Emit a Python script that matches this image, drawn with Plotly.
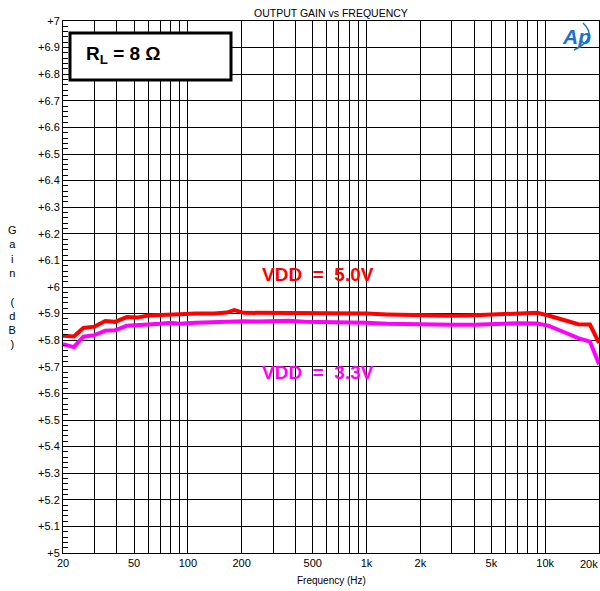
import plotly.graph_objects as go

# Measured gain vs frequency for an 8 ohm load at two supply voltages
freq_hz = [20, 23, 26, 30, 34.5, 39, 45.5, 52, 60, 70, 80, 90, 110, 140, 165, 182,
           205, 250, 300, 366, 450, 600, 800, 1000, 1300, 2000, 3000, 4000, 5500,
           7200, 9000, 10400, 12900, 15300, 17800, 20000]
gain_5v0 = [5.817, 5.814, 5.846, 5.851, 5.872, 5.869, 5.887, 5.885, 5.893, 5.896,
            5.897, 5.898, 5.900, 5.900, 5.904, 5.913, 5.903, 5.903, 5.903, 5.903,
            5.903, 5.903, 5.902, 5.900, 5.897, 5.893, 5.892, 5.894, 5.899, 5.903,
            5.903, 5.893, 5.874, 5.860, 5.859, 5.790]
gain_3v3 = [5.785, 5.774, 5.813, 5.819, 5.836, 5.837, 5.854, 5.856, 5.857, 5.862,
            5.866, 5.862, 5.866, 5.869, 5.871, 5.871, 5.871, 5.870, 5.871, 5.873,
            5.869, 5.869, 5.869, 5.866, 5.862, 5.858, 5.858, 5.858, 5.862, 5.864,
            5.863, 5.855, 5.829, 5.808, 5.795, 5.710]

# Axis ticks (the last label sits at the right edge and is drawn separately)
x_grid = [m * 10 ** e for e in range(1, 5) for m in range(1, 10) if 20 <= m * 10 ** e <= 20000]
x_labels = {20: "20", 50: "50", 100: "100", 200: "200", 500: "500", 1000: "1k",
            2000: "2k", 5000: "5k", 10000: "10k"}
x_edge_label = "20k"
x_text = [x_labels.get(v, "") for v in x_grid]
y_vals = [round(5 + 0.1 * i, 1) for i in range(21)]
y_text = ["+" + ("%g" % v) for v in y_vals]

FONT = "Arial, Liberation Sans, sans-serif"

fig = go.Figure()
fig.add_trace(go.Scatter(x=freq_hz, y=gain_5v0, mode="lines",
                         line=dict(color="#ff0000", width=4), name="VDD = 5.0V"))
fig.add_trace(go.Scatter(x=freq_hz, y=gain_3v3, mode="lines",
                         line=dict(color="#ff00ff", width=4), name="VDD = 3.3V"))

fig.update_xaxes(type="log", range=[1.30103, 4.30103],
                 tickvals=x_grid, ticktext=x_text, ticks="",
                 showgrid=True, gridcolor="#000000", gridwidth=1,
                 showline=True, linecolor="#000000", linewidth=1, mirror=True,
                 tickfont=dict(family=FONT, size=11, color="#000000"),
                 zeroline=False)
fig.update_yaxes(range=[5, 7], tickvals=y_vals, ticktext=y_text,
                 ticks="inside", ticklen=5, tickcolor="#000000",
                 minor=dict(dtick=0.02, ticks="inside", ticklen=5,
                            tickcolor="#000000", showgrid=False),
                 showgrid=True, gridcolor="#000000", gridwidth=1,
                 showline=True, linecolor="#000000", linewidth=1, mirror=True,
                 tickfont=dict(family=FONT, size=11, color="#000000"),
                 zeroline=False)

def px_x(px):
    return (px - 63) / 536.0

def px_y(py):
    return (553 - py) / 532.0

annotations = [
    dict(text="OUTPUT GAIN vs FREQUENCY", x=0.5, y=px_y(13), xref="paper", yref="paper",
         showarrow=False, font=dict(family=FONT, size=10.5, color="#000000"),
         xanchor="center", yanchor="middle"),
    dict(text=x_edge_label, x=px_x(600), y=px_y(564), xref="paper", yref="paper",
         showarrow=False, font=dict(family=FONT, size=11, color="#000000"),
         xanchor="right", yanchor="middle"),
    dict(text="Frequency (Hz)", x=0.5, y=px_y(580), xref="paper", yref="paper",
         showarrow=False, font=dict(family=FONT, size=10, color="#000000"),
         xanchor="center", yanchor="middle"),
    dict(text="G<br>a<br>i<br>n<br>\u00a0<br>(<br>d<br>B<br>)", x=px_x(12), y=px_y(287),
         xref="paper", yref="paper", showarrow=False,
         font=dict(family=FONT, size=11, color="#000000"),
         xanchor="center", yanchor="middle"),
    dict(text="<b>R<sub>L</sub> = 8 Ω</b>", x=px_x(123), y=px_y(55), xref="paper", yref="paper",
         showarrow=False, font=dict(family=FONT, size=19, color="#000000"),
         xanchor="center", yanchor="middle"),
    dict(text="<b>VDD\u00a0\u00a0=\u00a0\u00a05.0V</b>", x=px_x(318), y=px_y(274),
         xref="paper", yref="paper", showarrow=False,
         font=dict(family=FONT, size=19, color="#ff0000"),
         xanchor="center", yanchor="middle"),
    dict(text="<b>VDD\u00a0\u00a0=\u00a0\u00a03.3V</b>", x=px_x(318), y=px_y(372),
         xref="paper", yref="paper", showarrow=False,
         font=dict(family=FONT, size=19, color="#ff00ff"),
         xanchor="center", yanchor="middle"),
    dict(text="<b><i>Ap</i></b>", x=px_x(576), y=px_y(36), xref="paper", yref="paper",
         showarrow=False, font=dict(family=FONT, size=21, color="#1a72c8"),
         xanchor="center", yanchor="middle"),
]

shapes = [
    dict(type="rect", xref="paper", yref="paper",
         x0=px_x(70), x1=px_x(231), y0=px_y(80), y1=px_y(33),
         line=dict(color="#000000", width=3), fillcolor="#ffffff", layer="above"),
    dict(type="path", xref="paper", yref="paper",
         path="M %f,%f Q %f,%f %f,%f" % (px_x(583), px_y(23), px_x(599), px_y(38),
                                         px_x(574), px_y(50)),
         line=dict(color="#1a72c8", width=1.5)),
]

fig.update_layout(width=600, height=591,
                  margin=dict(l=63, r=1, t=21, b=38),
                  paper_bgcolor="#ffffff", plot_bgcolor="#ffffff",
                  showlegend=False, annotations=annotations, shapes=shapes)

fig.write_html("out.html")
